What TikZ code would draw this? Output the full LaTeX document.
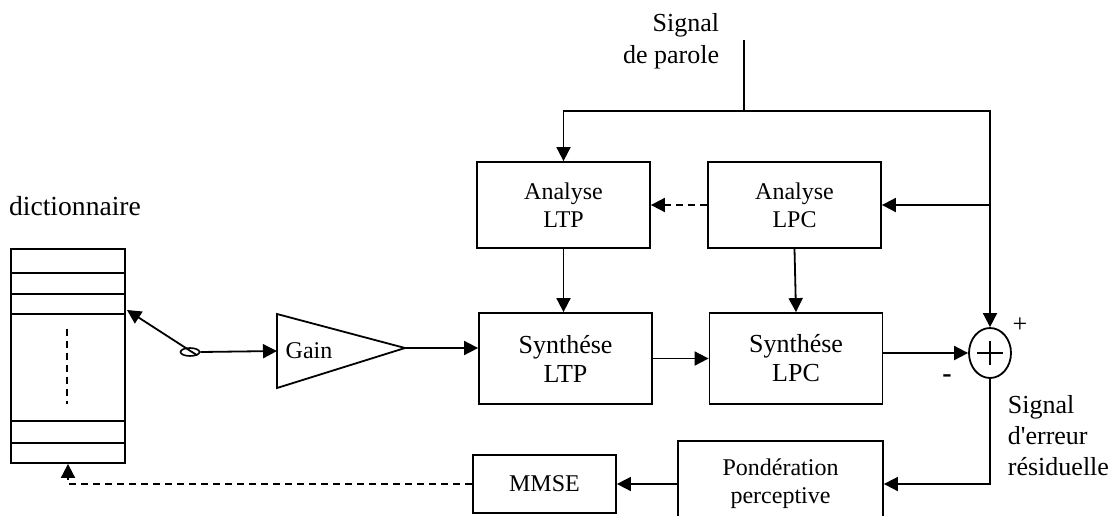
\documentclass[tikz,border=0pt]{standalone}
\usepackage{fontspec}
\setmainfont{Liberation Serif}[Ligatures=TeXOff]
\usetikzlibrary{arrows.meta, positioning, shapes.geometric}

\tikzset{
  bloc/.style={draw, align=center, inner sep=0pt, minimum width=86.5pt, font=\fontsize{12}{14}\selectfont},
  lbl/.style={align=left, inner sep=0pt, font=\fontsize{13}{15.5}\selectfont},
  pointille/.style={dash pattern=on 3.5pt off 2.5pt}
}

\begin{document}
\begin{tikzpicture}[x=0.5pt, y=-0.5pt, line width=0.9pt, >={Triangle[length=7pt,width=7pt]}]
\useasboundingbox (0,0) rectangle (1113,515);

% blocs
\node[bloc, minimum height=43pt] (altp) at (563.5,205) {Analyse\\LTP};
\node[bloc, minimum height=43pt] (alpc) at (794.5,205) {Analyse\\LPC};
\node[bloc, minimum height=45.5pt, font=\fontsize{13}{14.5}\selectfont] (sltp) at (565.5,358.5) {Synthése\\LTP};
\node[bloc, minimum height=45.5pt, font=\fontsize{13}{14.5}\selectfont] (slpc) at (796,358.5) {Synthése\\LPC};
\node[bloc, minimum width=102.5pt, minimum height=43pt] (pond) at (780.5,484) {Pondération\\perceptive};
\node[bloc, minimum width=71.5pt, minimum height=29pt] (mmse) at (544.5,484) {MMSE};
\node[draw, ellipse, minimum width=21pt, minimum height=25pt, inner sep=0pt] (sum) at (990,353) {};
\draw (sum.center) ++(-13,0) -- ++(26,0) (sum.center) ++(0,-12) -- ++(0,24);

% dictionnaire
\node[draw, minimum width=57pt, minimum height=107pt, inner sep=0pt] (dico) at (68,356) {};
\foreach \y in {273,294,314,421,443} \draw (11,\y) -- (125,\y);
\draw[pointille] (67,329) -- (67,404);
\node[lbl, font=\fontsize{13.8}{15.5}\selectfont] (dicolbl) at (75,206) {dictionnaire};

% gain et commutateur
\draw (277,314) -- (405,348) -- (277,388) -- cycle;
\coordinate (gin) at (277,351);
\coordinate (gout) at (405,348);
\node[lbl, font=\fontsize{12}{14}\selectfont] (gain) at (309,351) {Gain};
\node[draw, ellipse, minimum width=9.5pt, minimum height=4pt, inner sep=0pt, line width=0.8pt] (sw) at (190,352) {};
\coordinate (slot) at (127,310);
\draw[->] (sw.south east) -- (slot);
\draw[->] (sw.east) -- (gin);

% signal de parole
\coordinate (src) at (744,40);
\coordinate (split) at (744,111);
\node[lbl, align=right, anchor=east, font=\fontsize{13}{16}\selectfont] (parole) at (720,41) {Signal\\de parole};
\draw (src) -- (split);
\draw[->] (split) -| (altp.north);
\draw[->] (split) -| (sum.north);
\draw[->] (sum.north |- alpc.east) -- (alpc.east);

% liaisons
\draw[->, pointille] (alpc.west) -- (altp.east);
\draw[->] (altp.south) -- (altp.south |- sltp.north);
\draw[->] (alpc.south) -- (slpc.north);
\draw[->] (gout) -- (sltp.west |- gout);
\draw[->] (sltp.east) -- (slpc.west);
\draw[->] (slpc.east |- sum.west) -- (sum.west);
\draw[->] (sum.south) |- (pond.east);
\draw[->] (pond.west) -- (mmse.east);
\draw[->, pointille] (mmse.west) -| (dico.south);

\node[lbl] (plus) at (1020,325) {+};
\node[lbl, font=\fontsize{14}{16}\selectfont\bfseries] (moins) at (947,379) {-};
\node[lbl, anchor=west] (err) at (1007,436) {Signal\\d'erreur\\résiduelle};
\end{tikzpicture}
\end{document}
